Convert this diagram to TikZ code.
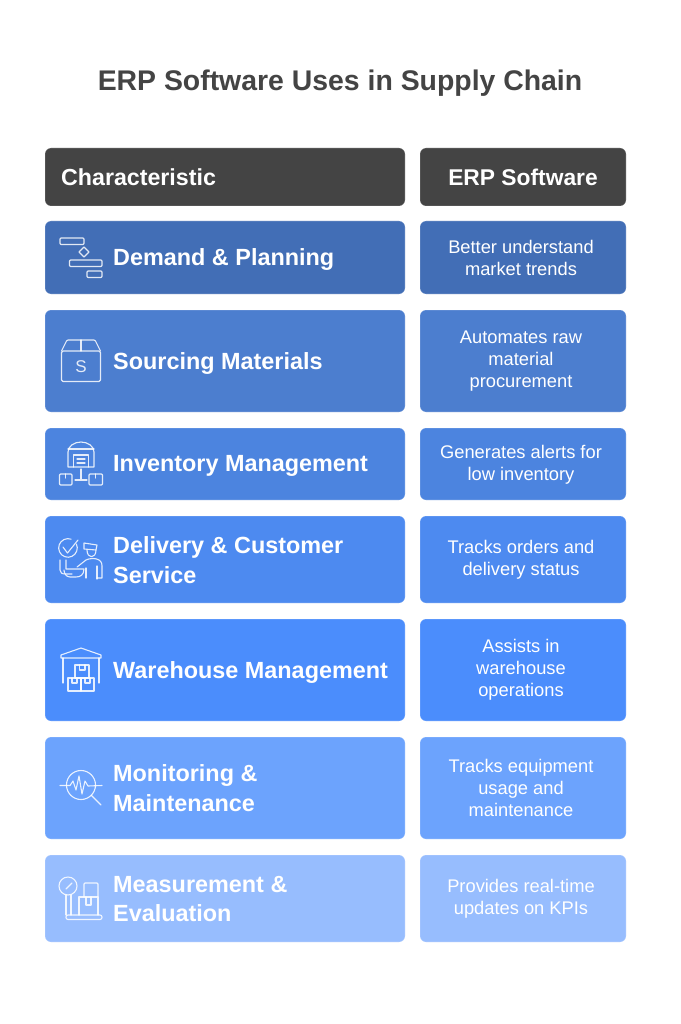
\documentclass[tikz,border=0pt]{standalone}
\usepackage{fontspec}
\setmainfont{Liberation Sans}
\definecolor{headcol}{HTML}{444444}
\definecolor{rowa}{HTML}{426EB6}
\definecolor{rowb}{HTML}{4C7ECF}
\definecolor{rowc}{HTML}{4C84DF}
\definecolor{rowd}{HTML}{4D8AF0}
\definecolor{rowe}{HTML}{4B8DFC}
\definecolor{rowf}{HTML}{6CA3FD}
\definecolor{rowg}{HTML}{97BDFE}
\tikzset{
  cell/.style={rectangle,rounded corners=6pt,draw=white,draw opacity=.25,line width=.6pt,inner sep=0pt},
  leftcell/.style={cell,minimum width=360pt},
  rightcell/.style={cell,minimum width=206pt},
  rowname/.style={anchor=west,inner sep=0pt,text=white,font=\fontsize{23.4}{29.5}\selectfont\bfseries,align=left},
  rowtext/.style={inner sep=0pt,text=white,font=\fontsize{18.3}{22}\selectfont,align=center},
  icon/.style={draw=white,draw opacity=.85,line width=1.1pt,line join=round,line cap=round}
}
\begin{document}
\begin{tikzpicture}[x=1pt,y=-1pt]
  \useasboundingbox[fill=white] (0,0) rectangle (680,1024);
  \node[inner sep=0pt,text=headcol,font=\fontsize{28.4}{34}\selectfont\bfseries] (title) at (340,83) {ERP Software Uses in Supply Chain};
  % header
  \node[leftcell,fill=headcol,minimum height=58pt] (h0) at (225,177) {};
  \node[rightcell,fill=headcol,minimum height=58pt] (h1) at (523,177) {};
  \node[rowname,font=\fontsize{23.2}{29}\selectfont\bfseries] (hname) at (61,177) {Characteristic};
  \node[inner sep=0pt,text=white,font=\fontsize{22.8}{29}\selectfont\bfseries] (htext) at (523,177) {ERP Software};
  % boxes
  \node[leftcell,fill=rowa,minimum height=73pt] (a0) at (225,257.5) {};
  \node[rightcell,fill=rowa,minimum height=73pt] (a1) at (523,257.5) {};
  \node[leftcell,fill=rowb,minimum height=102pt] (b0) at (225,361) {};
  \node[rightcell,fill=rowb,minimum height=102pt] (b1) at (523,361) {};
  \node[leftcell,fill=rowc,minimum height=72pt] (c0) at (225,464) {};
  \node[rightcell,fill=rowc,minimum height=72pt] (c1) at (523,464) {};
  \node[leftcell,fill=rowd,minimum height=87pt] (d0) at (225,559.5) {};
  \node[rightcell,fill=rowd,minimum height=87pt] (d1) at (523,559.5) {};
  \node[leftcell,fill=rowe,minimum height=102pt] (e0) at (225,670) {};
  \node[rightcell,fill=rowe,minimum height=102pt] (e1) at (523,670) {};
  \node[leftcell,fill=rowf,minimum height=102pt] (f0) at (225,788) {};
  \node[rightcell,fill=rowf,minimum height=102pt] (f1) at (523,788) {};
  \node[leftcell,fill=rowg,minimum height=87pt] (g0) at (225,898.5) {};
  \node[rightcell,fill=rowg,minimum height=87pt] (g1) at (523,898.5) {};
  % names
  \node[rowname] (aname) at (113,260) {Demand \& Planning};
  \node[rowname] (bname) at (113,363) {Sourcing Materials};
  \node[rowname] (cname) at (113,466) {Inventory Management};
  \node[rowname] (dname) at (113,560) {Delivery \& Customer\\Service};
  \node[rowname] (ename) at (113,672) {Warehouse Management};
  \node[rowname] (fname) at (113,788) {Monitoring \&\\Maintenance};
  \node[rowname] (gname) at (113,899) {Measurement \&\\Evaluation};
  % texts
  \node[rowtext] (atext) at (521,258) {Better understand\\market trends};
  \node[rowtext] (btext) at (521,361) {Automates raw\\material\\procurement};
  \node[rowtext] (ctext) at (521,465) {Generates alerts for\\low inventory};
  \node[rowtext] (dtext) at (521,560) {Tracks orders and\\delivery status};
  \node[rowtext] (etext) at (521,670) {Assists in\\warehouse\\operations};
  \node[rowtext] (ftext) at (521,788) {Tracks equipment\\usage and\\maintenance};
  \node[rowtext] (gtext) at (521,898.5) {Provides real-time\\updates on KPIs};
  % demand icon
  \draw[icon,rounded corners=1pt] (60,238) rectangle (84,244.5);
  \draw[icon] (84,247) -- (89,252) -- (84,257) -- (79,252) -- cycle;
  \draw[icon,rounded corners=1pt] (69.5,260) rectangle (102,266.5);
  \draw[icon,rounded corners=1pt] (87,271) rectangle (102,277.5);
  % sourcing icon
  \draw[icon,rounded corners=1.5pt] (61.5,351) rectangle (100.5,381.5);
  \draw[icon,rounded corners=1pt] (61.5,351) -- (67,340) -- (95,340) -- (100.5,351);
  \draw[icon] (81,340) -- (81,351);
  \node[inner sep=0pt,text=white,opacity=.85,font=\fontsize{17}{20}\selectfont] (slabel) at (81,367) {S};
  % inventory icon
  \draw[icon] (68,467) -- (68,452) arc (180:360:13 and 10) -- (94,467) -- cycle;
  \draw[icon] (68,449) -- (94,449);
  \draw[icon] (73.5,467) -- (73.5,455) -- (88.5,455) -- (88.5,467);
  \draw[icon] (77,459) -- (85,459) (77,463) -- (85,463);
  \draw[icon,rounded corners=1pt] (59.5,474) rectangle (72,485);
  \draw[icon,rounded corners=1pt] (89,474) rectangle (102.5,485);
  \draw[icon] (65.5,474) -- (65.5,478) (95.5,474) -- (95.5,478);
  \draw[icon] (81,469) -- (81,480) (75,480) -- (87,480);
  % delivery icon
  \draw[icon] (76.4,544) arc (-25:290:9.3);
  \draw[icon] (63,547) -- (67.5,553) -- (78,540);
  \draw[icon] (84,543) -- (97,545) -- (96,550) -- (84,549) -- cycle;
  \draw[icon] (87,550) .. controls (87,559) and (96,559) .. (96,550);
  \draw[icon] (60,560) -- (60,570) .. controls (60,573) and (62,574) .. (66,574) -- (72,574);
  \draw[icon] (66,560) -- (66,569) -- (84,569) .. controls (84,575) and (80,577) .. (76,577) -- (70,577) .. controls (66,577) and (64,573) .. (64,570);
  \draw[icon] (77,567) -- (86,560) .. controls (90,558) and (96,558) .. (99,560) .. controls (102,562) and (102,564) .. (102,568) -- (102,578) -- (97,578);
  \draw[icon] (86,568) -- (86,578) (97,566) -- (97,579);
  % warehouse icon
  \draw[icon] (61,658) -- (61,655) -- (81,648) -- (101,655) -- (101,658) -- cycle;
  \draw[icon] (63,658) -- (63,683) (99,658) -- (99,683);
  \draw[icon] (75,665) rectangle (89,678);
  \draw[icon] (68,678) rectangle (81,691);
  \draw[icon] (81,678) rectangle (94,691);
  \draw[icon] (79.5,665) -- (79.5,670) -- (85,670) -- (85,665);
  \draw[icon] (72,678) -- (72,683) -- (77,683) -- (77,678);
  \draw[icon] (85,678) -- (85,683) -- (90,683) -- (90,678);
  % monitoring icon
  \draw[icon] (81,785) circle (14.5);
  \draw[icon] (60,785.5) -- (70,785.5) -- (73,781) -- (76,790) -- (79,776) -- (82,794) -- (85,781) -- (88,786) -- (102,785.5);
  \draw[icon] (91.5,795.5) -- (101,805);
  % measurement icon
  \draw[icon] (68,886) circle (9);
  \draw[icon] (66,889) -- (72,883);
  \draw[icon] (66,895) -- (66,915) (71,895) -- (71,915);
  \draw[icon,rounded corners=2pt] (66,915) rectangle (102,919.5);
  \draw[icon] (79,915) -- (79,897) -- (98,897) -- (98,915);
  \draw[icon,rounded corners=1pt] (84,897) -- (84,883) -- (98,883) -- (98,897);
  \draw[icon] (86,897) -- (86,905) -- (91,905) -- (91,897);
\end{tikzpicture}
\end{document}
